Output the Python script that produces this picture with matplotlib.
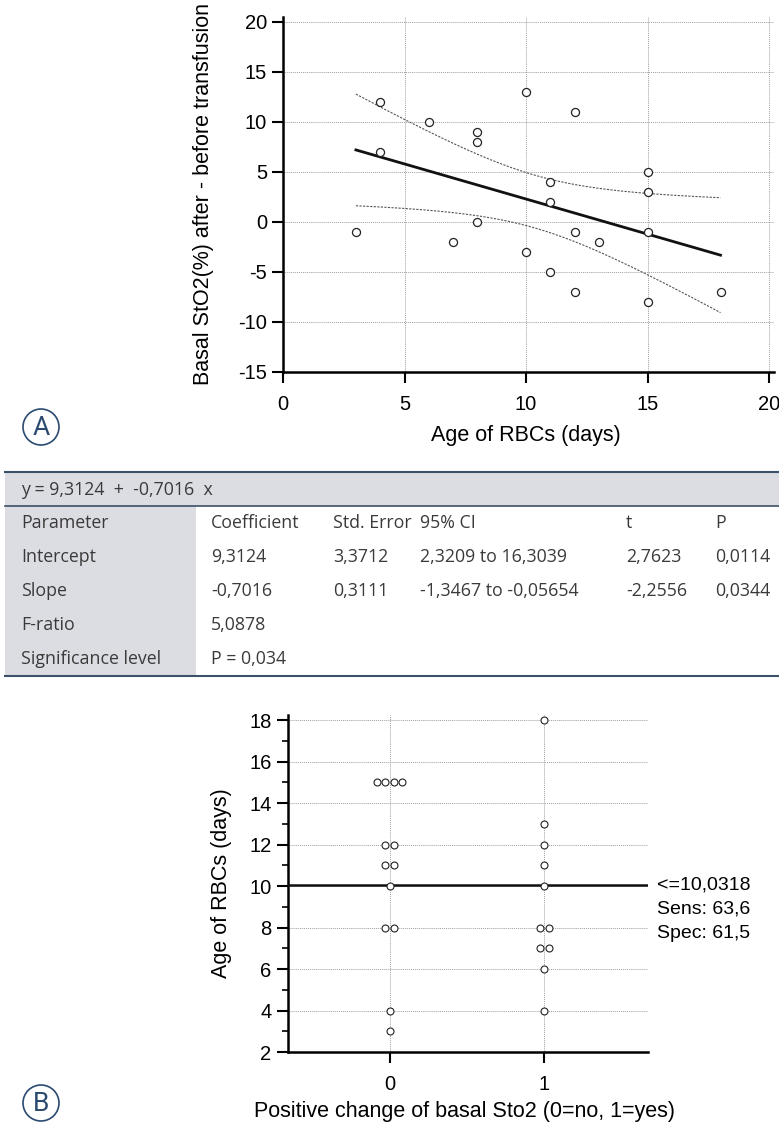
import numpy as np
import matplotlib
matplotlib.use("Agg")
import matplotlib.pyplot as plt
from matplotlib.patches import Rectangle, Circle
from matplotlib.transforms import blended_transform_factory

# Panel A: change of basal StO2 vs age of red cells
age_a = [3, 4, 4, 6, 7, 8, 8, 8, 10, 10, 11, 11, 11, 12, 12, 12, 13, 15, 15, 15, 15, 18]
sto2_change = [-1, 12, 7, 10, -2, 9, 8, 0, 13, -3, 4, 2, -5, 11, -1, -7, -2, 5, 3, -1, -8, -7]
intercept = 9.3124
slope = -0.7016
t_crit = 2.086  # t(0.975, df=20)

# regression table
equation = "y = 9,3124  +  -0,7016  x"
table_header = ["Parameter", "Coefficient", "Std. Error", "95% CI", "t", "P"]
table_rows = [
    ["Intercept", "9,3124", "3,3712", "2,3209 to 16,3039", "2,7623", "0,0114"],
    ["Slope", "-0,7016", "0,3111", "-1,3467 to -0,05654", "-2,2556", "0,0344"],
    ["F-ratio", "5,0878", "", "", "", ""],
    ["Significance level", "P = 0,034", "", "", "", ""],
]

# Panel B: age of RBCs by positive change group
age_no = [15, 15, 15, 15, 12, 12, 11, 11, 10, 8, 8, 4, 3]
age_yes = [18, 13, 12, 11, 10, 8, 8, 7, 7, 6, 4]
cutoff = 10.0318
sens = 63.6
spec = 61.5

W, H = 779, 1124
plt.rcParams['font.family'] = ['Liberation Sans', 'DejaVu Sans']
plt.rcParams['axes.unicode_minus'] = False
fig = plt.figure(figsize=(W / 100, H / 100), dpi=100)

# background axes in pixel coordinates for table and panel letters
bg = fig.add_axes([0, 0, 1, 1])
bg.set_xlim(0, W)
bg.set_ylim(H, 0)
bg.axis('off')

grid_kw = dict(color='#a0a0a0', linestyle=(0, (1, 1)), linewidth=0.7)


def px_axes(left, top, right, bottom):
    return fig.add_axes([left / W, 1 - bottom / H, (right - left) / W, (bottom - top) / H])


def style_axes(ax):
    for side in ['top', 'right']:
        ax.spines[side].set_visible(False)
    for side in ['left', 'bottom']:
        ax.spines[side].set_linewidth(1.8)
    ax.tick_params(which='major', direction='out', length=8, width=1.5, labelsize=14.5)
    ax.tick_params(axis='x', which='major', pad=8.5)
    ax.tick_params(axis='y', which='major', pad=3.5)
    ax.tick_params(which='minor', direction='out', length=4.5, width=1.2)
    ax.set_axisbelow(True)


# ---- panel A ----
axa = px_axes(283, 17, 774, 372)
style_axes(axa)
x = np.array(age_a, dtype=float)
y = np.array(sto2_change, dtype=float)
n = len(x)
resid = y - (intercept + slope * x)
s = np.sqrt(np.sum(resid ** 2) / (n - 2))
sxx = np.sum((x - x.mean()) ** 2)
xs = np.linspace(x.min(), x.max(), 200)
fit = intercept + slope * xs
band = t_crit * s * np.sqrt(1 / n + (xs - x.mean()) ** 2 / sxx)

axa.plot(xs, fit, color='#111111', lw=2.0, zorder=3)
axa.plot(xs, fit + band, color='#555555', lw=0.8, linestyle=(0, (2, 1.2)), zorder=3)
axa.plot(xs, fit - band, color='#555555', lw=0.8, linestyle=(0, (2, 1.2)), zorder=3)
axa.plot(x, y, 'o', mfc='white', mec='#222222', mew=0.9, ms=5.8, zorder=4)

axa.set_xlim(0, 20.2)
axa.set_ylim(-15, 20.5)
axa.set_xticks(np.arange(0, 21, 5))
axa.set_yticks(np.arange(-15, 21, 5))
axa.grid(True, **grid_kw)
axa.set_xlabel("Age of RBCs (days)", fontsize=15.5)
axa.set_ylabel("Basal StO2(%) after - before transfusion", fontsize=15.5)
axa.xaxis.set_label_coords(0.495, -0.178)
axa.yaxis.set_label_coords(-0.162, 0.5)
axa.xaxis.label.set_verticalalignment('center')
axa.yaxis.label.set_verticalalignment('center')

# ---- table ----
tab_bg = '#dcdde3'
tab_line = '#3c5068'
tab_font = ['Open Sans', 'DejaVu Sans']
bg.add_patch(Rectangle((5, 472), W - 5, 34, fc=tab_bg, ec='none'))
bg.add_patch(Rectangle((5, 506), 191, 170, fc=tab_bg, ec='none'))
for yy, lw in [(472, 1.5), (506, 1.2), (676, 1.5)]:
    bg.plot([5, W], [yy, yy], color=tab_line, lw=lw)
col_x = [21, 211, 333, 420, 626, 715]
row_y = [523, 557, 591, 625, 659]
bg.text(21, 490, equation, fontsize=12.8, family=tab_font, color='#3a3a3a', va='center')
for row, yy in zip([table_header] + table_rows, row_y):
    for cell, xx in zip(row, col_x):
        bg.text(xx, yy, cell, fontsize=12.8, family=tab_font, color='#3a3a3a', va='center')

# panel letters
for label, cy in [("A", 427), ("B", 1103)]:
    bg.add_patch(Circle((41, cy), 18, fc='none', ec='#2b4a6f', lw=1.2))
    bg.text(41, cy + 1, label, fontsize=19, family=['Roboto', 'DejaVu Sans'],
            color='#2b4a6f', ha='center', va='center')

# ---- panel B ----
axb = px_axes(287.5, 715, 648, 1052)
style_axes(axb)


def dot_offsets(values, step=0.055):
    vals = np.array(values, dtype=float)
    offs = np.zeros(len(vals))
    for v in np.unique(vals):
        idx = np.where(vals == v)[0]
        k = len(idx)
        offs[idx] = (np.arange(k) - (k - 1) / 2) * step
    return offs


for grp, vals in [(0, age_no), (1, age_yes)]:
    axb.plot(grp + dot_offsets(vals), vals, 'o', mfc='white', mec='#222222',
             mew=0.8, ms=5, zorder=4)

axb.axhline(cutoff, color='#111111', lw=1.8, zorder=3)
axb.set_xlim(-0.66, 1.67)
axb.set_ylim(2, 18.25)
axb.set_xticks([0, 1])
axb.set_yticks(np.arange(2, 19, 2))
axb.set_yticks(np.arange(3, 18, 2), minor=True)
axb.grid(True, **grid_kw)
axb.set_xlabel("Positive change of basal Sto2 (0=no, 1=yes)", fontsize=15.5)
axb.set_ylabel("Age of RBCs (days)", fontsize=15.5)
axb.xaxis.set_label_coords(0.492, -0.178)
axb.yaxis.set_label_coords(-0.184, 0.5)
axb.xaxis.label.set_verticalalignment('center')
axb.yaxis.label.set_verticalalignment('center')

trans = blended_transform_factory(axb.transAxes, axb.transData)
notes = ["<=" + f"{cutoff:.4f}".replace('.', ','),
         "Sens: " + f"{sens:.1f}".replace('.', ','),
         "Spec: " + f"{spec:.1f}".replace('.', ',')]
for i, note in enumerate(notes):
    axb.annotate(note, xy=(1.024, cutoff), xycoords=trans, xytext=(0, -17.3 * i),
                 textcoords='offset points', fontsize=14, va='center', ha='left',
                 annotation_clip=False)

fig.savefig("out.png", dpi=100)
